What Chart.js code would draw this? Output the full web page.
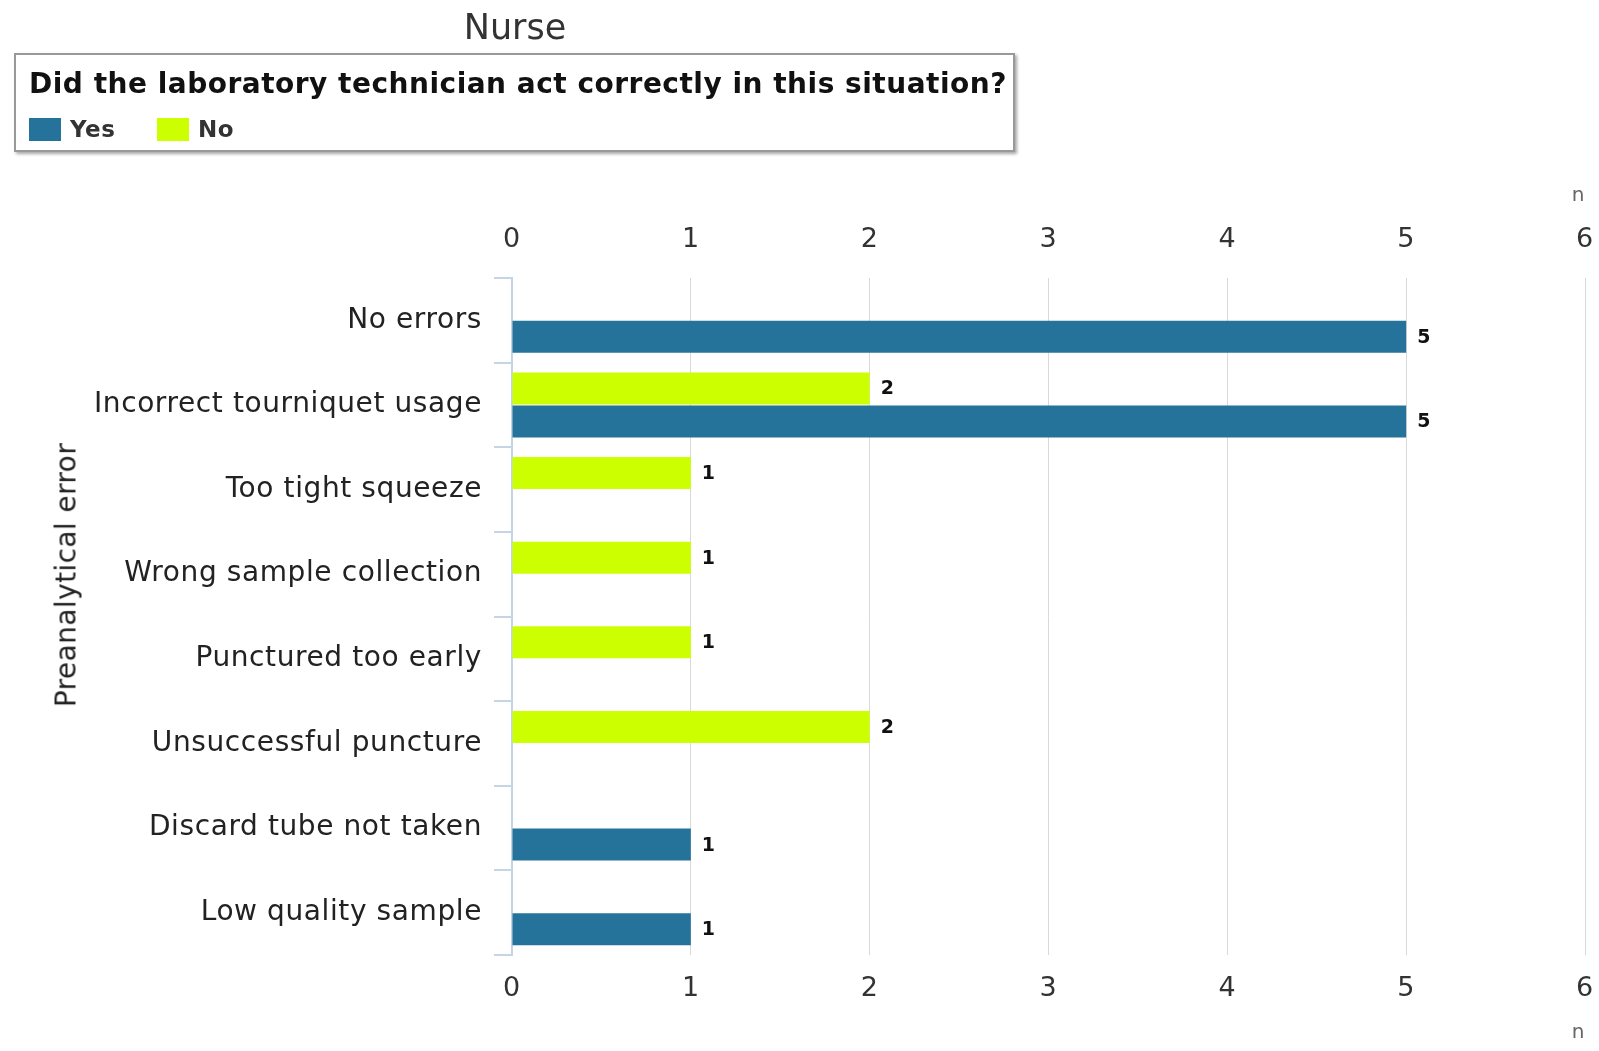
<!DOCTYPE html>
<html>
<head>
<meta charset="utf-8">
<script src="https://cdn.jsdelivr.net/npm/chart.js@4"></script>
<style>
  body { margin: 0; background: #fff; font-family: "DejaVu Sans", sans-serif; }
  #wrap { position: relative; width: 1599px; height: 1051px; }
  #myChart { position: absolute; left: 0; top: 0; }
  #title { position: absolute; left: 0; width: 1030px; top: 7px; text-align: center; font-size: 35px; color: #333; }
  #legend {
    position: absolute; left: 14px; top: 53px; width: 997px; height: 95px;
    border: 2px solid #999; box-shadow: 2px 2px 3px rgba(0,0,0,0.35); background: #fff;
  }
  #legend .head { position: absolute; left: 13px; top: 12px; font-size: 28px; letter-spacing: 0.5px; font-weight: bold; color: #111; white-space: nowrap; }
  #legend .item { position: absolute; top: 61px; font-size: 23px; letter-spacing: 0.5px; font-weight: bold; color: #333; }
  #legend .sw { display: inline-block; width: 32px; height: 23px; vertical-align: -4px; margin-right: 9px; }
  #ytitle {
    position: absolute; left: 66px; top: 575px; transform: translate(-50%, -50%) rotate(-90deg);
    font-size: 28px; letter-spacing: 0.4px; color: #222; white-space: nowrap;
  }
</style>
</head>
<body>
<div id="wrap">
  <canvas id="myChart" width="1599" height="1051"></canvas>
  <div id="title">Nurse</div>
  <div id="legend"></div>
  <div id="ytitle">Preanalytical error</div>
</div>
<script>
const categories = [
    "No errors",
    "Incorrect tourniquet usage",
    "Too tight squeeze",
    "Wrong sample collection",
    "Punctured too early",
    "Unsuccessful puncture",
    "Discard tube not taken",
    "Low quality sample",
];
const yesValues = [5, 5, null, null, null, null, 1, 1];
const noValues = [null, 2, 1, 1, 1, 2, null, null];
const xTicks = [0, 1, 2, 3, 4, 5, 6];
const legendTitle = "Did the laboratory technician act correctly in this situation?";

const yesColor = "#25739a";
const noColor = "#ccff00";

// legend box (Yes first like the original, bars drawn No on top)
const legend = document.getElementById("legend");
legend.innerHTML =
    '<div class="head">' + legendTitle + "</div>" +
    '<div class="item" style="left:13px"><span class="sw" style="background:' + yesColor + '"></span>Yes</div>' +
    '<div class="item" style="left:141px"><span class="sw" style="background:' + noColor + '"></span>No</div>';

// numbers right of each bar
const valueLabels = {
    id: "valueLabels",
    afterDatasetsDraw(chart) {
        const ctx = chart.ctx;
        ctx.save();
        ctx.letterSpacing = "0px";
        ctx.font = "bold 19px 'DejaVu Sans'";
        ctx.fillStyle = "#111";
        ctx.textAlign = "left";
        ctx.textBaseline = "middle";
        chart.data.datasets.forEach((ds, i) => {
            chart.getDatasetMeta(i).data.forEach((bar, j) => {
                if (ds.data[j] == null) return;
                ctx.fillText(String(ds.data[j]), bar.x + 11, bar.y + 1);
            });
        });
        ctx.restore();
    },
};

// the original text is a bit wider set
const spacing = {
    id: "spacing",
    beforeDraw(chart) { chart.ctx.letterSpacing = "0.6px"; },
};

Chart.defaults.font.family = "'DejaVu Sans'";

// keep the plot edges where the original has them
const noSidePad = (scale) => { scale.paddingLeft = 0; scale.paddingRight = 0; };

const ctx = document.getElementById("myChart").getContext("2d");
new Chart(ctx, {
    type: "bar",
    data: {
        labels: categories,
        datasets: [
            { label: "No", data: noValues, backgroundColor: noColor },
            { label: "Yes", data: yesValues, backgroundColor: yesColor },
        ],
    },
    options: {
        responsive: false,
        animation: false,
        indexAxis: "y",
        layout: { padding: { left: 0, right: 14, top: 0, bottom: 0 } },
        datasets: { bar: { categoryPercentage: 0.78, barPercentage: 0.97 } },
        plugins: { legend: { display: false }, tooltip: { enabled: false } },
        scales: {
            y: {
                afterFit: (scale) => { scale.width = 512; },
                border: { color: "#c5d5e5", width: 2 },
                grid: { drawOnChartArea: false, color: "#c5d5e5", tickLength: 18, lineWidth: 2 },
                ticks: { color: "#222", font: { size: 28 }, padding: 12 },
            },
            x: {
                position: "bottom",
                min: 0,
                max: 6,
                afterFit: (scale) => { scale.height = 96; noSidePad(scale); },
                afterBuildTicks: (scale) => { scale.ticks = xTicks.map((v) => ({ value: v })); },
                border: { display: false },
                grid: { color: "#d9d9d9", drawTicks: false },
                ticks: { color: "#333", font: { size: 27 }, padding: 18 },
                title: { display: true, text: "n", align: "end", color: "#666", font: { size: 20 }, padding: { bottom: 6 } },
            },
            x2: {
                position: "top",
                min: 0,
                max: 6,
                afterFit: (scale) => { scale.height = 278; noSidePad(scale); },
                afterBuildTicks: (scale) => { scale.ticks = xTicks.map((v) => ({ value: v })); },
                border: { display: false },
                grid: { drawOnChartArea: false, drawTicks: false },
                ticks: { color: "#333", font: { size: 27 }, padding: 22 },
                title: { display: true, text: "n", align: "end", color: "#666", font: { size: 20 }, padding: { top: 184 } },
            },
        },
    },
    plugins: [spacing, valueLabels],
});
</script>
</body>
</html>
